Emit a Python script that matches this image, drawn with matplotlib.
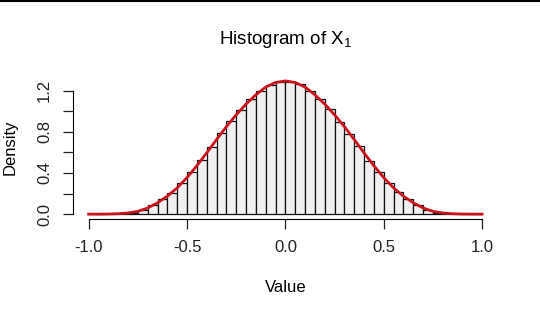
import matplotlib
matplotlib.use('Agg')
import matplotlib.pyplot as plt
from matplotlib.lines import Line2D
import numpy as np

# histogram: bin edges every 0.05 from -1 to 1, densities
bin_edges = np.round(np.arange(-1.0, 1.0001, 0.05), 2)
density = [0.0, 0.0, 0.0, 0.003, 0.013, 0.042, 0.085, 0.146, 0.205, 0.302,
           0.41, 0.53, 0.654, 0.79, 0.91, 1.01, 1.115, 1.2, 1.255, 1.28,
           1.28, 1.262, 1.2, 1.122, 1.018, 0.898, 0.777, 0.66, 0.517, 0.41,
           0.302, 0.215, 0.143, 0.085, 0.036, 0.013, 0.003, 0.0, 0.0, 0.0]

# red density curve, read at the bin edges
curve_x = bin_edges
curve_y = [0.0, 0.0, 0.001, 0.004, 0.011, 0.027, 0.06, 0.11, 0.175, 0.255,
           0.355, 0.47, 0.595, 0.725, 0.85, 0.965, 1.07, 1.16, 1.235, 1.28,
           1.295, 1.28, 1.235, 1.16, 1.07, 0.965, 0.85, 0.725, 0.595, 0.47,
           0.355, 0.255, 0.175, 0.11, 0.06, 0.027, 0.011, 0.004, 0.001, 0.0,
           0.0]

x_ticks = [-1.0, -0.5, 0.0, 0.5, 1.0]
x_labels = ['-1.0', '-0.5', '0.0', '0.5', '1.0']
y_ticks = [0.0, 0.2, 0.4, 0.6, 0.8, 1.0, 1.2]
y_labels = ['0.0', '', '0.4', '', '0.8', '', '1.2']

plt.rcParams['font.family'] = ['Liberation Sans', 'DejaVu Sans']
plt.rcParams['mathtext.fontset'] = 'custom'
plt.rcParams['mathtext.rm'] = 'Liberation Sans'
plt.rcParams['mathtext.it'] = 'Liberation Sans'

fig = plt.figure(figsize=(5.4, 3.14), dpi=100)
ax = fig.add_axes([0.135, 0.301, 0.787, 0.460])

ax.bar(bin_edges[:-1], density, width=0.05, align='edge',
       color='#F0F0F0', edgecolor='#111111', linewidth=0.9)
ax.plot(curve_x, curve_y, color='#C8141C', lw=2)

ax.set_xlim(-1.08, 1.08)
ax.set_ylim(-0.052, 1.352)
ax.spines['top'].set_visible(False)
ax.spines['right'].set_visible(False)
ax.spines['bottom'].set_bounds(-1.0, 1.0)
ax.spines['left'].set_bounds(0.0, 1.2)
ax.set_xticks(x_ticks)
ax.set_xticklabels(x_labels, fontsize=12)
ax.set_yticks(y_ticks)
ax.set_yticklabels(y_labels, fontsize=12, rotation=90, va='center')
ax.tick_params(length=7, width=0.9, pad=8, colors='#222222')

ax.set_xlabel('Value', fontsize=12, labelpad=18)
ax.set_ylabel('Density', fontsize=12, labelpad=14)
ax.set_title(r'Histogram of X$_\mathrm{1}$', fontsize=13.5, pad=22)

# thin black border line across the top of the image
fig.add_artist(Line2D([0, 1], [0.998, 0.998], color='black', lw=1.5,
                      transform=fig.transFigure))

fig.savefig('out.png', dpi=100)
